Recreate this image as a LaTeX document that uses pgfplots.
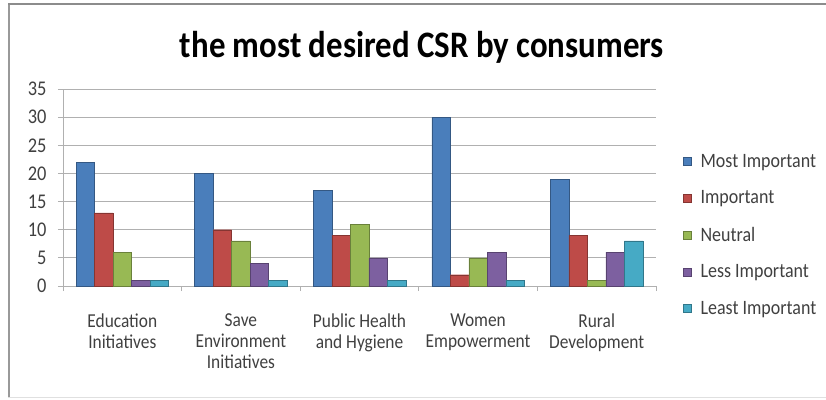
\documentclass[border=0pt]{standalone}
\usepackage{pgfplots}
\pgfplotsset{compat=1.18}
\usepackage{fontspec}
\setmainfont{Carlito}[FakeStretch=0.88]
\definecolor{c1}{HTML}{4A7EBB}
\definecolor{c2}{HTML}{BE4B48}
\definecolor{c3}{HTML}{98B954}
\definecolor{c4}{HTML}{7D60A0}
\definecolor{c5}{HTML}{46AAC5}
\definecolor{txt}{HTML}{404040}
\definecolor{axc}{HTML}{B0B0B0}
\begin{document}
\begin{tikzpicture}[x=1bp,y=1bp]
\useasboundingbox (0,0) rectangle (826,399);
\draw[color=black!40, line width=2bp] (9,1.5) -- (9,395);
\draw[color=black!45, line width=1.2bp] (8,395) -- (826,395);
\draw[color=black!12, line width=1bp] (8,1.5) -- (826,1.5);
\node[font=\fontsize{37.5}{42}\bfseries\selectfont, inner sep=0pt] at (422,352) {the most desired CSR by consumers};
\begin{axis}[
  at={(63bp,113bp)}, anchor=south west,
  scale only axis, width=593bp, height=197bp,
  ybar=0pt, bar width=18.5bp,
  xmin=-0.5, xmax=4.5, ymin=0, ymax=35,
  xtick={0,1,2,3,4},
  xticklabels={{Education\\Initiatives},{Save\\Environment\\Initiatives},{Public Health\\and Hygiene},{Women\\Empowerment},{Rural\\Development}},
  minor xtick={-0.5,0.5,1.5,2.5,3.5,4.5},
  every major x tick/.append style={draw=none},
  ytick={0,5,...,35},
  ymajorgrids, grid style={draw=axc, line width=1bp},
  axis x line*=bottom, axis y line*=left,
  axis line style={draw=axc, line width=1bp},
  tick align=outside,
  major tick length=5bp, minor tick length=5bp,
  tick style={draw=axc, line width=1bp},
  xticklabel style={align=center, font=\fontsize{19.8}{21}\selectfont, text=txt, yshift=-19bp},
  yticklabel style={font=\fontsize{21}{23}\selectfont, text=txt, xshift=-8bp},
  /pgf/number format/assume math mode=true,
  legend style={at={(1.0455,0.259)}, anchor=west, draw=none, fill=none,
    font=\fontsize{20.5}{23}\selectfont, text=txt, row sep=18bp, inner sep=0pt,
    /tikz/every odd column/.append style={column sep=7bp}},
  legend cell align=left,
  legend image code/.code={\draw[#1] (0bp,-4bp) rectangle (8bp,4bp);},
]
\addplot[fill=c1, draw=c1!70!black] coordinates {(0,22) (1,20) (2,17) (3,30) (4,19)};
\addplot[fill=c2, draw=c2!70!black] coordinates {(0,13) (1,10) (2,9) (3,2) (4,9)};
\addplot[fill=c3, draw=c3!70!black] coordinates {(0,6) (1,8) (2,11) (3,5) (4,1)};
\addplot[fill=c4, draw=c4!70!black] coordinates {(0,1) (1,4) (2,5) (3,6) (4,6)};
\addplot[fill=c5, draw=c5!70!black] coordinates {(0,1) (1,1) (2,1) (3,1) (4,8)};
\legend{Most Important,Important,Neutral,Less Important,Least Important}
\end{axis}
\end{tikzpicture}
\end{document}
